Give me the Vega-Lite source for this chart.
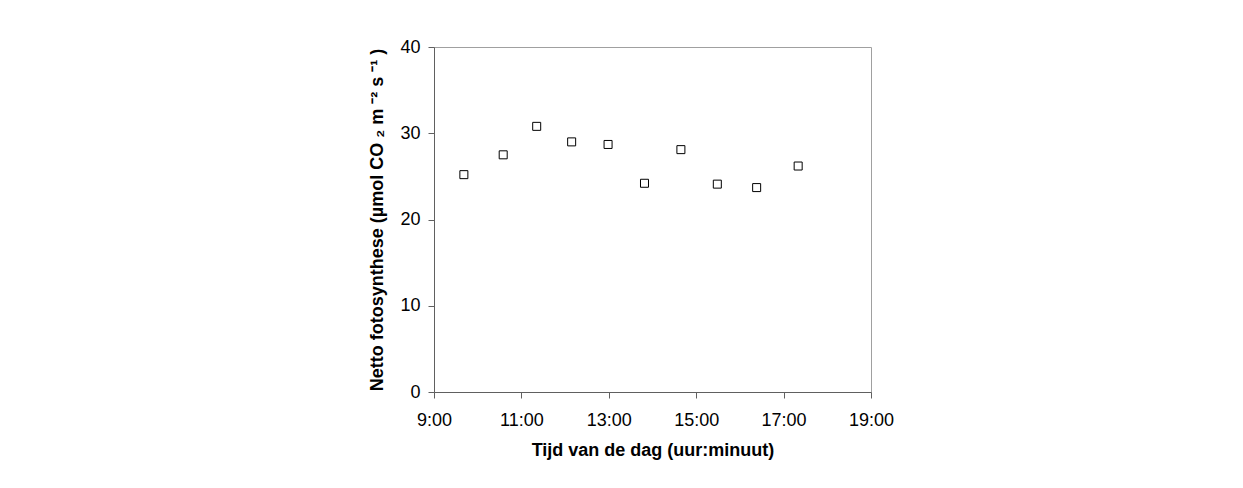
{
  "$schema": "https://vega.github.io/schema/vega-lite/v6.json",
  "width": 437,
  "height": 345,
  "autosize": {"type": "none"},
  "padding": {"left": 434, "top": 47, "right": 372, "bottom": 96},
  "background": "white",
  "data": {
    "values": [
      {"tijd": "2000-01-01T09:41", "fotosynthese": 25.2},
      {"tijd": "2000-01-01T10:35", "fotosynthese": 27.5},
      {"tijd": "2000-01-01T11:21", "fotosynthese": 30.8},
      {"tijd": "2000-01-01T12:09", "fotosynthese": 29.0},
      {"tijd": "2000-01-01T12:59", "fotosynthese": 28.7},
      {"tijd": "2000-01-01T13:49", "fotosynthese": 24.2},
      {"tijd": "2000-01-01T14:39", "fotosynthese": 28.1},
      {"tijd": "2000-01-01T15:29", "fotosynthese": 24.1},
      {"tijd": "2000-01-01T16:23", "fotosynthese": 23.7},
      {"tijd": "2000-01-01T17:20", "fotosynthese": 26.2}
    ]
  },
  "mark": {"type": "point", "shape": "square", "filled": false, "color": "black", "size": 64, "strokeWidth": 1, "opacity": 1},
  "encoding": {
    "x": {
      "field": "tijd",
      "type": "temporal",
      "scale": {"domain": [
        {"year": 2000, "month": 1, "date": 1, "hours": 9},
        {"year": 2000, "month": 1, "date": 1, "hours": 19}
      ]},
      "axis": {
        "title": "Tijd van de dag (uur:minuut)",
        "format": "%-H:%M",
        "values": [
          {"year": 2000, "month": 1, "date": 1, "hours": 9},
          {"year": 2000, "month": 1, "date": 1, "hours": 11},
          {"year": 2000, "month": 1, "date": 1, "hours": 13},
          {"year": 2000, "month": 1, "date": 1, "hours": 15},
          {"year": 2000, "month": 1, "date": 1, "hours": 17},
          {"year": 2000, "month": 1, "date": 1, "hours": 19}
        ],
        "labelPadding": 13,
        "titlePadding": 12
      }
    },
    "y": {
      "field": "fotosynthese",
      "type": "quantitative",
      "scale": {"domain": [0, 40]},
      "axis": {
        "title": "Netto fotosynthese (µmol CO ₂ m ⁻² s ⁻¹ )",
        "values": [0, 10, 20, 30, 40],
        "labelPadding": 8,
        "titlePadding": 13
      }
    }
  },
  "config": {
    "view": {"stroke": "#a0a0a0", "strokeWidth": 1},
    "axis": {
      "grid": false,
      "domainColor": "#606060",
      "domainWidth": 1,
      "tickColor": "#606060",
      "tickSize": 6,
      "labelFont": "Liberation Sans",
      "labelFontSize": 18,
      "labelColor": "black",
      "labelFlush": false,
      "labelOverlap": false,
      "titleFont": "Liberation Sans",
      "titleFontSize": 18,
      "titleFontWeight": "bold",
      "titleColor": "black"
    }
  }
}
